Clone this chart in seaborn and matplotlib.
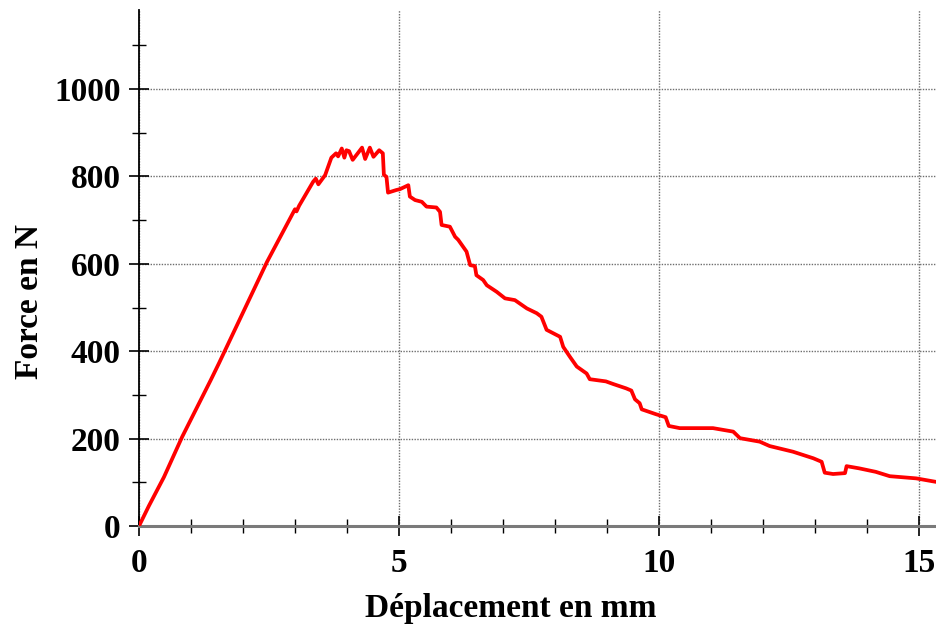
import matplotlib
matplotlib.use("Agg")
import matplotlib.pyplot as plt
from matplotlib.ticker import MultipleLocator
import seaborn as sns
import pandas as pd

# Data
deplacement_mm = [0.00, 0.05, 0.19, 0.48, 0.83, 1.38, 1.54, 2.46, 3.00, 3.03, 3.08,
                  3.35, 3.40, 3.45, 3.58, 3.70, 3.79, 3.83, 3.90, 3.95, 3.99, 4.04,
                  4.11, 4.22, 4.29, 4.35, 4.44, 4.51, 4.62, 4.69, 4.71, 4.76, 4.79,
                  4.95, 5.02, 5.18, 5.21, 5.31, 5.44, 5.53, 5.72, 5.79, 5.82, 5.98,
                  6.08, 6.14, 6.30, 6.37, 6.46, 6.49, 6.62, 6.69, 6.88, 7.04, 7.23,
                  7.46, 7.65, 7.74, 7.84, 8.10, 8.16, 8.29, 8.42, 8.61, 8.67, 8.98,
                  9.12, 9.37, 9.47, 9.54, 9.63, 9.67, 9.94, 10.13, 10.19, 10.40, 11.04,
                  11.43, 11.56, 11.94, 12.13, 12.58, 12.71, 12.97, 13.13, 13.19, 13.35,
                  13.58, 13.61, 13.85, 14.17, 14.44, 14.95, 15.33]
force_n = [0, 12, 46, 112, 204, 334, 373, 604, 725, 720, 733,
           788, 795, 782, 803, 843, 853, 846, 864, 843, 860, 858,
           838, 855, 866, 840, 866, 845, 860, 853, 804, 799, 763,
           769, 771, 780, 754, 746, 742, 731, 729, 719, 689, 685,
           662, 655, 628, 597, 595, 574, 563, 551, 536, 521, 517,
           498, 487, 479, 449, 433, 410, 387, 365, 349, 336, 331,
           325, 315, 310, 290, 281, 267, 256, 249, 229, 224, 224,
           216, 201, 193, 183, 170, 165, 155, 147, 122, 119,
           121, 137, 132, 124, 114, 109, 101]

x_major_ticks = [0, 5, 10, 15]
y_major_ticks = [0, 200, 400, 600, 800, 1000]
x_label = "Déplacement en mm"
y_label = "Force en N"

df = pd.DataFrame({"x": deplacement_mm, "y": force_n})

sns.set_style("white")
plt.rcParams["font.family"] = ["Liberation Serif", "DejaVu Serif"]
plt.rcParams["font.weight"] = "bold"
plt.rcParams["text.color"] = "black"
plt.rcParams["axes.labelcolor"] = "black"
plt.rcParams["xtick.color"] = "black"
plt.rcParams["ytick.color"] = "black"

fig = plt.figure(figsize=(9.36, 6.30), dpi=100)
ax = fig.add_axes([139 / 936, 1 - 526 / 630, 1 - 139 / 936, (526 - 10) / 630])

sns.lineplot(data=df, x="x", y="y", sort=False, estimator=None,
             color="#ff0000", linewidth=2.7, ax=ax, zorder=3)

ax.set_xlim(0, 15.33)
ax.set_ylim(0, 1181)
ax.set_xticks(x_major_ticks)
ax.set_yticks(y_major_ticks)
ax.xaxis.set_minor_locator(MultipleLocator(1))
ax.yaxis.set_minor_locator(MultipleLocator(100))

ax.grid(True, which="major", color="#6e6e6e", linestyle=(0, (1, 1)), linewidth=1.0)
ax.set_axisbelow(True)

for s in ["top", "right"]:
    ax.spines[s].set_visible(False)
ax.spines["left"].set_color("black")
ax.spines["left"].set_linewidth(1.3)
ax.spines["bottom"].set_color("#7a7a7a")
ax.spines["bottom"].set_linewidth(2.2)

ax.tick_params(which="both", bottom=True, left=True, top=False, right=False)
ax.tick_params(which="major", direction="inout", length=14.4, width=1.2,
               color="black", labelcolor="black", labelsize=24)
ax.tick_params(axis="x", which="major", pad=9)
ax.tick_params(axis="y", which="major", pad=6)
ax.tick_params(which="minor", direction="inout", length=10, width=1.0, color="black")

for lab in ax.get_xticklabels() + ax.get_yticklabels():
    lab.set_fontweight("bold")

ax.set_xlabel(x_label, fontsize=24, fontweight="bold", color="black")
ax.set_ylabel(y_label, fontsize=24, fontweight="bold", color="black")
ax.xaxis.set_label_coords(0.467, -0.160)
ax.yaxis.set_label_coords(-0.137, 0.436)
ax.xaxis.label.set_va("center")
ax.yaxis.label.set_va("center")

fig.savefig("out.png", dpi=100)
